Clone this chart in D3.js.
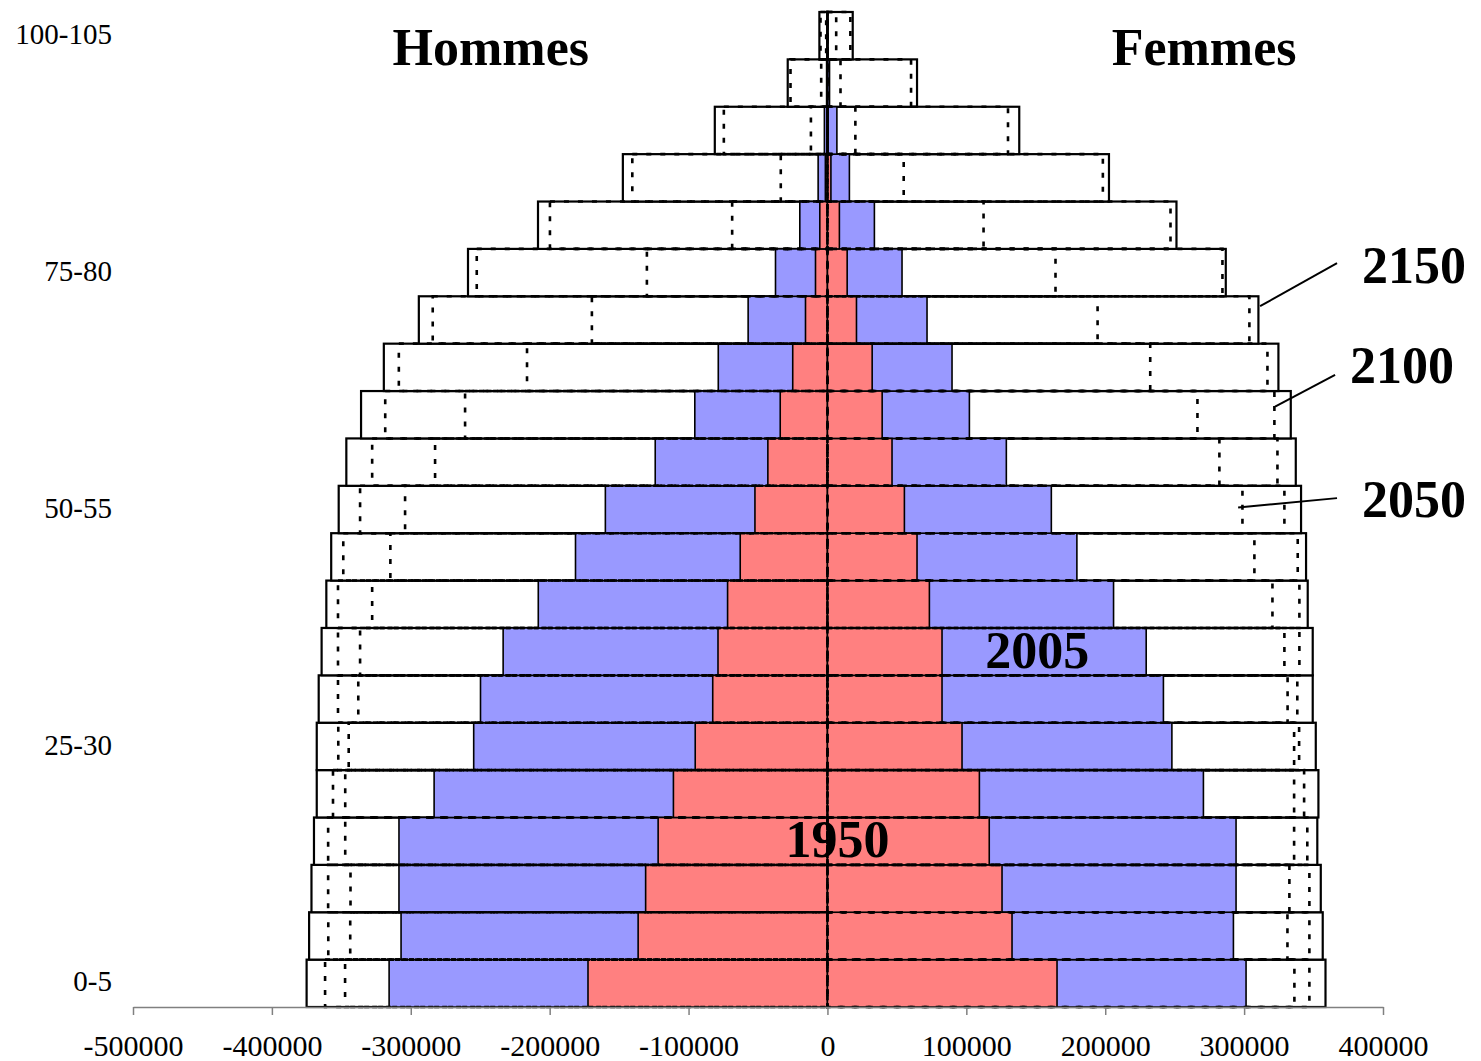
<!DOCTYPE html>
<html>
<head>
<meta charset="utf-8">
<script src="https://cdn.jsdelivr.net/npm/d3@7"></script>
<style>
  body { margin: 0; background: #fff; }
  text { font-family: "Liberation Serif", "Times New Roman", serif; }
</style>
</head>
<body>
<div id="chart"></div>
<script>
// age groups, bottom to top
const ages = ['0-5','5-10','10-15','15-20','20-25','25-30','30-35','35-40','40-45','45-50',
  '50-55','55-60','60-65','65-70','70-75','75-80','80-85','85-90','90-95','95-100','100-105']
const shownAges = ['0-5','25-30','50-55','75-80','100-105']
const xTicks = [-500000,-400000,-300000,-200000,-100000,0,100000,200000,300000,400000]

// hommes (negative side)
const m1950 = [-172400,-136300,-130900,-121900,-110900,-95200,-82600,-78800,-71900,-62800,-52200,-42900,-34000,-25000,-15800,-8600,-5500,-1500,-300,-50,-10]
const m2005 = [-315600,-307000,-308500,-308500,-283200,-254700,-249800,-233500,-208200,-181400,-159900,-124000,-95500,-78600,-57100,-37400,-19900,-6700,-2200,-600,-100]
const m2050 = [-347300,-343600,-343400,-347200,-347200,-344700,-337800,-336500,-327800,-314700,-304100,-282500,-260900,-216300,-169600,-130000,-68600,-33600,-11900,-4500,-900]
const m2100 = [-361700,-359400,-359500,-359500,-356000,-352200,-352400,-352400,-352400,-348600,-336500,-327800,-318400,-308600,-284200,-252500,-199800,-140500,-74600,-26600,-5000]
const m2150 = [-375000,-373200,-371500,-369700,-367700,-367700,-366300,-364200,-360800,-357300,-351900,-346400,-335800,-319400,-294200,-258800,-208400,-147300,-81100,-28600,-5800]

// femmes
const f1950 = [165300,132900,125700,116500,109400,96900,82500,82500,73400,64500,55400,46500,39400,32200,20900,14200,8600,2500,500,100,20]
const f2005 = [301400,292300,294200,294200,270700,248000,241900,229500,206000,179600,161200,128800,102200,89700,71700,53700,33800,15800,6800,1500,300]
const f2050 = [336200,331200,332600,336000,336000,336000,331300,329000,320400,307400,298800,282200,266400,232400,194500,164200,112400,54900,20100,9400,6300]
const f2100 = [347000,347000,347000,345500,343200,339600,338300,339800,339800,338600,329000,324000,321800,316800,303800,284400,247000,198300,130000,60200,16500]
const f2150 = [358600,356600,355200,352700,353500,351600,349400,349400,345800,344600,341000,337200,333600,324700,310300,286800,251300,202700,138100,64500,18200]

// labels placed in data space: value on x, row position on y (0 = bottom)
const yearLabels = [
  { text: '2150', v: 384900, r: 15.28, from: [366900, 15.70], to: [311500, 14.79] },
  { text: '2100', v: 376300, r: 13.17, from: [365500, 13.34], to: [322300, 12.67] },
  { text: '2050', v: 384900, r: 10.34, from: [366900, 10.74], to: [295700, 10.54] },
  { text: '2005', v: 113700, r: 7.15 },
  { text: '1950', v: -30200, r: 3.17 }
]

const width = 1481, height = 1061

const svg = d3.select('#chart').append('svg')
  .attr('width', width)
  .attr('height', height)

const x = d3.scaleLinear().domain([-500000, 400000]).range([133, 1383])
const y = d3.scaleBand().domain(ages).range([1007, 12]).padding(0)
const yPos = d3.scaleLinear().domain([0, ages.length]).range([1007, 12])

const drawBars = (values, cls, fill, stroke, sw, dash) => {
  svg.append('g').attr('class', cls)
    .selectAll('rect')
    .data(values)
    .join('rect')
    .attr('x', d => x(Math.min(0, d)))
    .attr('y', (d, i) => y(ages[i]))
    .attr('width', d => Math.abs(x(d) - x(0)))
    .attr('height', y.bandwidth())
    .attr('fill', fill)
    .attr('stroke', stroke)
    .attr('stroke-width', sw)
    .attr('stroke-dasharray', dash)
}

// back to front
drawBars(m2150, 'm2150', '#fff', '#000', 2.2, null)
drawBars(f2150, 'f2150', '#fff', '#000', 2.2, null)
drawBars(m2005, 'm2005', '#9999ff', '#000', 1.6, null)
drawBars(f2005, 'f2005', '#9999ff', '#000', 1.6, null)
drawBars(m1950, 'm1950', '#ff8080', '#000', 1.6, null)
drawBars(f1950, 'f1950', '#ff8080', '#000', 1.6, null)
drawBars(m2050, 'm2050', 'none', '#000', 2.6, '5,9')
drawBars(f2050, 'f2050', 'none', '#000', 2.6, '5,9')
drawBars(m2100, 'm2100', 'none', '#000', 2.6, '5,9')
drawBars(f2100, 'f2100', 'none', '#000', 2.6, '5,9')

// x axis
const xAxis = svg.append('g')
  .attr('transform', 'translate(0,1007)')
  .call(d3.axisBottom(x).tickValues(xTicks).tickFormat(d => String(d)).tickSize(8).tickSizeOuter(0))
xAxis.select('.domain').attr('stroke', '#808080').attr('stroke-width', 1.5)
xAxis.selectAll('.tick line').attr('stroke', '#808080').attr('stroke-width', 1.5)
xAxis.selectAll('.tick text')
  .attr('y', 49)
  .attr('dy', 0)
  .attr('fill', '#000')
  .style('font-family', '"Liberation Serif", serif')
  .style('font-size', '30px')

// age labels (every 5th group)
svg.append('g')
  .selectAll('text')
  .data(shownAges)
  .join('text')
  .attr('x', 112)
  .attr('y', d => y(d) + y.bandwidth() / 2 - 2)
  .attr('dy', '0.35em')
  .attr('text-anchor', 'end')
  .style('font-size', '29px')
  .text(d => d)

// titles
svg.append('text')
  .attr('x', x(-242400)).attr('y', 65)
  .attr('text-anchor', 'middle')
  .style('font-size', '52px').style('font-weight', 'bold')
  .text('Hommes')
svg.append('text')
  .attr('x', x(271200)).attr('y', 65)
  .attr('text-anchor', 'middle')
  .style('font-size', '52px').style('font-weight', 'bold')
  .text('Femmes')

// year labels with pointer lines
svg.append('g')
  .selectAll('line')
  .data(yearLabels.filter(d => d.from))
  .join('line')
  .attr('x1', d => x(d.from[0])).attr('y1', d => yPos(d.from[1]))
  .attr('x2', d => x(d.to[0])).attr('y2', d => yPos(d.to[1]))
  .attr('stroke', '#000').attr('stroke-width', 2)

svg.append('g')
  .selectAll('text')
  .data(yearLabels)
  .join('text')
  .attr('x', d => x(d.v))
  .attr('y', d => yPos(d.r))
  .style('font-size', '52px').style('font-weight', 'bold')
  .text(d => d.text)
</script>
</body>
</html>
